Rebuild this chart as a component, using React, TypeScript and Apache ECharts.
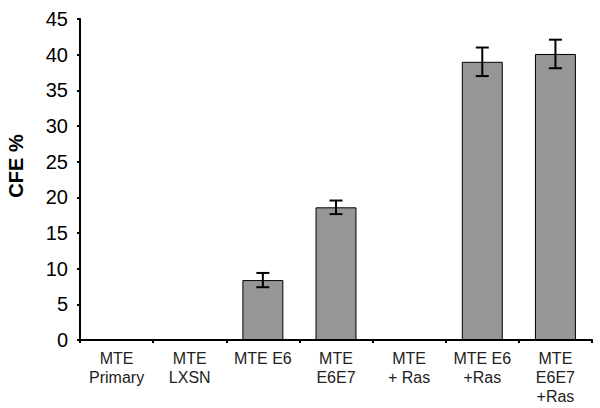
import React, { useEffect, useRef } from "react";
import * as echarts from "echarts";

const categories = [
  "MTE\nPrimary",
  "MTE\nLXSN",
  "MTE E6",
  "MTE\nE6E7",
  "MTE\n+ Ras",
  "MTE E6\n+Ras",
  "MTE\nE6E7\n+Ras",
];
const cfeValues = [0, 0, 8.4, 18.6, 0, 39.0, 40.1];
const cfeErrors = [0, 0, 1.0, 0.95, 0, 2.0, 2.0];
const yTicks = [0, 5, 10, 15, 20, 25, 30, 35, 40, 45];

export default function App() {
  const ref = useRef<HTMLDivElement>(null);
  useEffect(() => {
    if (!ref.current) return;
    const chart = echarts.init(ref.current, null, { renderer: "svg" });
    const errData = cfeValues.map((v, i) => [i, v - cfeErrors[i], v + cfeErrors[i], cfeErrors[i]]);
    chart.setOption({
      animation: false,
      backgroundColor: "#ffffff",
      grid: { left: 80, right: 8, top: 19, bottom: 68 },
      xAxis: {
        type: "category",
        data: categories,
        axisLine: { lineStyle: { color: "#000", width: 2 } },
        axisTick: { show: true, length: 3, lineStyle: { color: "#000", width: 2 } },
        axisLabel: {
          color: "#222",
          fontFamily: "Liberation Sans, Arial, sans-serif",
          fontSize: 16,
          lineHeight: 19,
          margin: 9,
          interval: 0,
        },
      },
      yAxis: {
        type: "value",
        min: yTicks[0],
        max: yTicks[yTicks.length - 1],
        interval: 5,
        splitLine: { show: false },
        axisLine: { show: true, lineStyle: { color: "#000", width: 2 } },
        axisTick: { show: true, length: 3, lineStyle: { color: "#000", width: 2 } },
        axisLabel: {
          color: "#000",
          fontFamily: "Liberation Sans, Arial, sans-serif",
          fontSize: 20,
          margin: 12,
        },
      },
      graphic: [
        {
          type: "text",
          x: 16,
          y: 166,
          rotation: Math.PI / 2,
          style: {
            text: "CFE %",
            fontFamily: "Liberation Sans, Arial, sans-serif",
            fontWeight: "bold",
            fontSize: 20,
            fill: "#000",
            textAlign: "center",
            textVerticalAlign: "middle",
          },
        },
      ],
      series: [
        {
          type: "bar",
          data: cfeValues,
          barCategoryGap: "44%",
          itemStyle: { color: "#969696", borderColor: "#000", borderWidth: 1 },
        },
        {
          type: "custom",
          data: errData,
          z: 10,
          renderItem: (params: any, api: any) => {
            const err = api.value(3);
            if (!err) return null;
            const i = api.value(0);
            const lo = api.coord([i, api.value(1)]);
            const hi = api.coord([i, api.value(2)]);
            const hw = 6.5;
            const st = { stroke: "#000", lineWidth: 2 };
            return {
              type: "group",
              children: [
                { type: "line", shape: { x1: lo[0], y1: lo[1], x2: hi[0], y2: hi[1] }, style: st },
                { type: "line", shape: { x1: lo[0] - hw, y1: lo[1], x2: lo[0] + hw, y2: lo[1] }, style: st },
                { type: "line", shape: { x1: hi[0] - hw, y1: hi[1], x2: hi[0] + hw, y2: hi[1] }, style: st },
              ],
            };
          },
        },
      ],
    });
    return () => chart.dispose();
  }, []);
  return <div ref={ref} style={{ width: 600, height: 408, position: "absolute", left: 0, top: 0 }} />;
}
